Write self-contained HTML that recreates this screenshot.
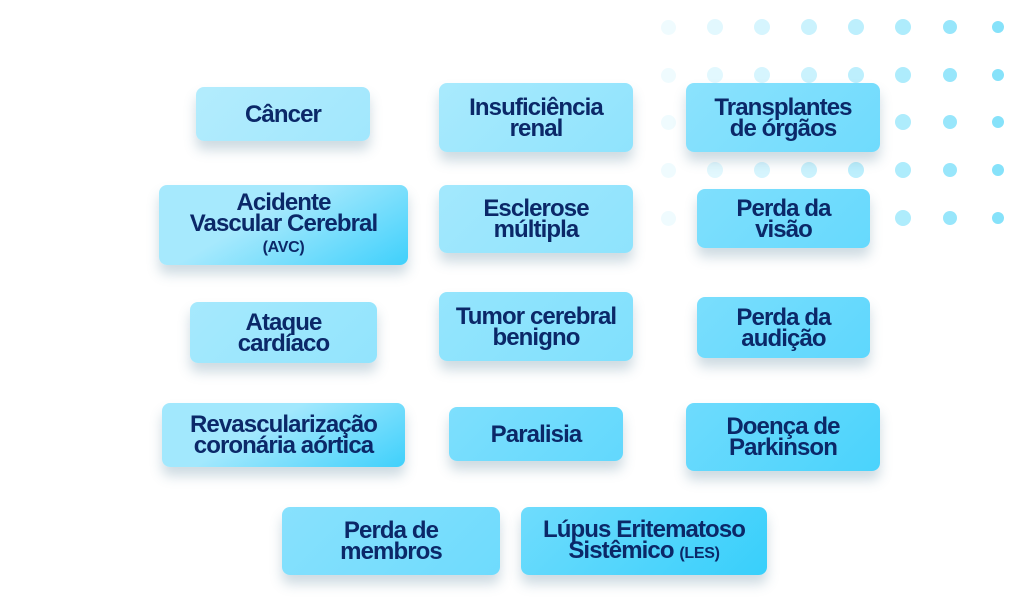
<!DOCTYPE html>
<html><head><meta charset="utf-8"><style>
body{margin:0;width:1024px;height:601px;background:#fff;position:relative;overflow:hidden;font-family:"Liberation Sans",sans-serif}
.d{position:absolute;border-radius:50%}
.b{position:absolute;border-radius:8px;display:flex;align-items:center;justify-content:center;text-align:center;color:#0b2868;font-weight:bold;font-size:24px;line-height:21px;letter-spacing:-0.9px;box-shadow:0 9px 12px rgba(60,110,140,0.25)}
.s{font-size:16px;letter-spacing:-0.3px}
</style></head><body>
<div id="dots"></div>
<script>
var xs=[668,715,762,809,856,903,950,998],ys=[27,75,122,170,218],h='';
var cols=['#effbfe','#e2f8fe','#d6f5fe','#caf2fd','#bdeffd','#aeecfc','#98e6fb','#86e2fa'];
var sz=[15,16,16,16,16,16,14,12];
for(var r=0;r<5;r++)for(var c=0;c<8;c++){h+='<div class="d" style="left:'+(xs[c]-sz[c]/2)+'px;top:'+(ys[r]-sz[c]/2)+'px;width:'+sz[c]+'px;height:'+sz[c]+'px;background:'+cols[c]+'"></div>';}
document.getElementById('dots').innerHTML=h;
</script>
<div class="b" style="left:196px;top:87px;width:174px;height:54px;background:linear-gradient(135deg,#b3ecfd,#a1e7fd)">Câncer</div>
<div class="b" style="left:439px;top:83px;width:194px;height:69px;background:linear-gradient(135deg,#a9eafd,#8fe3fd)">Insuficiência<br>renal</div>
<div class="b" style="left:686px;top:83px;width:194px;height:69px;background:linear-gradient(135deg,#8be2fd,#6fdbfd)">Transplantes<br>de órgãos</div>
<div class="b" style="left:159px;top:185px;width:249px;height:80px;background:linear-gradient(150deg,#a6e9fd 40%,#3fd0fb)"><div>Acidente<br>Vascular Cerebral<br><span class="s">(AVC)</span></div></div>
<div class="b" style="left:439px;top:185px;width:194px;height:68px;background:linear-gradient(135deg,#a3e8fd,#8ee3fd)">Esclerose<br>múltipla</div>
<div class="b" style="left:697px;top:189px;width:173px;height:59px;background:linear-gradient(135deg,#7fdffd,#66d9fd)">Perda da<br>visão</div>
<div class="b" style="left:190px;top:302px;width:187px;height:61px;background:linear-gradient(135deg,#a6e9fd,#92e4fd)">Ataque<br>cardíaco</div>
<div class="b" style="left:439px;top:292px;width:194px;height:69px;background:linear-gradient(135deg,#95e5fd,#80e0fd)">Tumor cerebral<br>benigno</div>
<div class="b" style="left:697px;top:297px;width:173px;height:61px;background:linear-gradient(135deg,#7adefd,#5ed7fd)">Perda da<br>audição</div>
<div class="b" style="left:162px;top:403px;width:243px;height:64px;background:linear-gradient(150deg,#a2e8fd 40%,#3fd0fb)">Revascularização<br>coronária aórtica</div>
<div class="b" style="left:449px;top:407px;width:174px;height:54px;background:linear-gradient(135deg,#7edffd,#62d8fd)">Paralisia</div>
<div class="b" style="left:686px;top:403px;width:194px;height:68px;background:linear-gradient(135deg,#6edbfd,#4ad3fc)">Doença de<br>Parkinson</div>
<div class="b" style="left:282px;top:507px;width:218px;height:68px;background:linear-gradient(135deg,#88e1fd,#6edbfd)">Perda de<br>membros</div>
<div class="b" style="left:521px;top:507px;width:246px;height:68px;background:linear-gradient(135deg,#6fdcfd,#38cffb)"><div>Lúpus Eritematoso<br>Sistêmico <span class="s">(LES)</span></div></div>
</body></html>
